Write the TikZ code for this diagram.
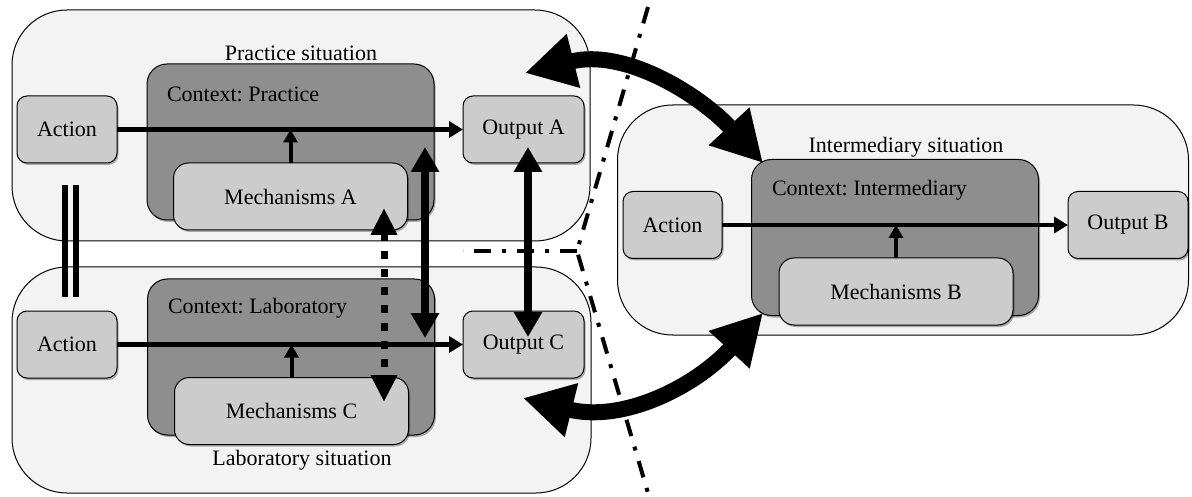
\documentclass[tikz,border=0pt]{standalone}
\usepackage{fontspec}
\setmainfont{Liberation Serif}
\usetikzlibrary{arrows.meta,shadows,calc}
\definecolor{bgc}{RGB}{243,243,243}
\definecolor{ctxc}{RGB}{142,142,142}
\definecolor{boxc}{RGB}{204,204,204}
\frenchspacing
\begin{document}
\begin{tikzpicture}[x=1pt,y=-1pt,
  every node/.style={font=\fontsize{22}{24}\selectfont, inner sep=0pt, outer sep=0pt},
  softshadow/.style={drop shadow={shadow xshift=1.5pt, shadow yshift=-2pt, opacity=.3, fill=black}},
  situation/.style={draw=black, line width=1pt, fill=bgc, rounded corners=55pt},
  ctxbox/.style={draw=black, line width=1pt, fill=ctxc, rounded corners=20pt, softshadow, minimum width=287pt, minimum height=156pt},
  smallbox/.style={draw=black, line width=1pt, fill=boxc, rounded corners=10pt, softshadow, minimum height=67pt},
  mechbox/.style={draw=black, line width=1pt, fill=boxc, rounded corners=15pt, softshadow, minimum width=234pt, minimum height=67pt},
  flow/.style={line width=4.5pt, -{Triangle[length=14pt,width=16pt]}},
  influence/.style={line width=4pt, -{Triangle[length=13pt,width=14pt]}},
  compare/.style={line width=8pt, {Triangle[length=25pt,width=27pt]}-{Triangle[length=25pt,width=27pt]}},
  dotcompare/.style={line width=7pt, dash pattern=on 8pt off 10pt, {Triangle[length=27pt,width=25pt]}-{Triangle[length=27pt,width=25pt]}},
  transfer/.style={line width=16pt, {Triangle[length=50pt,width=52pt]}-{Triangle[length=50pt,width=52pt]}},
  border/.style={line width=4pt, dash pattern=on 17pt off 11pt on 4pt off 11pt},
  bar/.style={line width=6pt}
]
\useasboundingbox (0,0) rectangle (1192,497);

% situations
\node[situation, minimum width=578pt, minimum height=231pt] (prac) at (301,125.5) {};
\node[situation, minimum width=579pt, minimum height=226pt] (lab) at (301.5,380) {};
\node[situation, minimum width=571pt, minimum height=230pt] (inter) at (903,220) {};

\node (pracT) at (301,53) {Practice situation};
\node (labT) at (302,460) {Laboratory situation};
\node (interT) at (906,147) {Intermediary situation};

% contexts
\node[ctxbox] (ctxP) at (290.5,142) {};
\node[ctxbox] (ctxL) at (291,357) {};
\node[ctxbox] (ctxI) at (895,237.5) {};
\node[anchor=west] (ctxPT) at (167,94) {Context: Practice};
\node[anchor=west] (ctxLT) at (168,308) {Context: Laboratory};
\node[anchor=west] (ctxIT) at (772,190) {Context: Intermediary};

% inner boxes
\node[smallbox, minimum width=100pt] (actP) at (67,129.5) {Action};
\node[smallbox, minimum width=121pt] (outA) at (523.5,129.5) {Output A};
\node[mechbox] (mechA) at (290.5,196.5) {Mechanisms A};

\node[smallbox, minimum width=100pt] (actL) at (67,344.5) {Action};
\node[smallbox, minimum width=121pt] (outC) at (523.5,344.5) {Output C};
\node[mechbox] (mechC) at (291.5,411) {Mechanisms C};

\node[smallbox, minimum width=99pt] (actB) at (672.5,225) {Action};
\node[smallbox, minimum width=120pt] (outB) at (1128,225) {Output B};
\node[mechbox] (mechB) at (896,291.5) {Mechanisms B};

% flows
\draw[flow] (actP) -- (outA);
\draw[flow] (actL) -- (outC);
\draw[flow] (actB) -- (outB);
\draw[influence] (mechA.north) -- (mechA.north |- actP.east);
\draw[influence] (mechC.north) -- (mechC.north |- actL.east);
\draw[influence] (mechB.north) -- (mechB.north |- actB.east);

% parallel bars
\coordinate (b1t) at (65,185); \coordinate (b1b) at (65,297);
\coordinate (b2t) at (76,185); \coordinate (b2b) at (76,297);
\draw[bar] (b1t) -- (b1b);
\draw[bar] (b2t) -- (b2b);

% comparison arrows
\coordinate (cA) at (425,147); \coordinate (cC) at (425,338);
\draw[compare] (cA) -- (cC);
\coordinate (oA) at (528,147); \coordinate (oC) at (528,337);
\draw[compare] (oA) -- (oC);
\coordinate (mA) at (384,208); \coordinate (mC) at (384,402);
\draw[dotcompare] (mA) -- (mC);

% border lines
\coordinate (bTop) at (648,7);
\coordinate (bMid) at (577,251);
\coordinate (bBot) at (648,493);
\coordinate (bLeft) at (463,251);
\draw[border] (bTop) -- (bMid) -- (bBot);
\draw[border] (bMid) -- (bLeft);

% transfer arrows
\coordinate (tA) at (525,73);
\coordinate (tI1) at (763,163);
\coordinate (tC) at (523,398);
\coordinate (tI2) at (763,313);
\draw[transfer] (tA) .. controls (625,48) and (700,95) .. (tI1);
\draw[transfer] (tC) .. controls (623,423) and (695,387) .. (tI2);
\end{tikzpicture}
\end{document}
